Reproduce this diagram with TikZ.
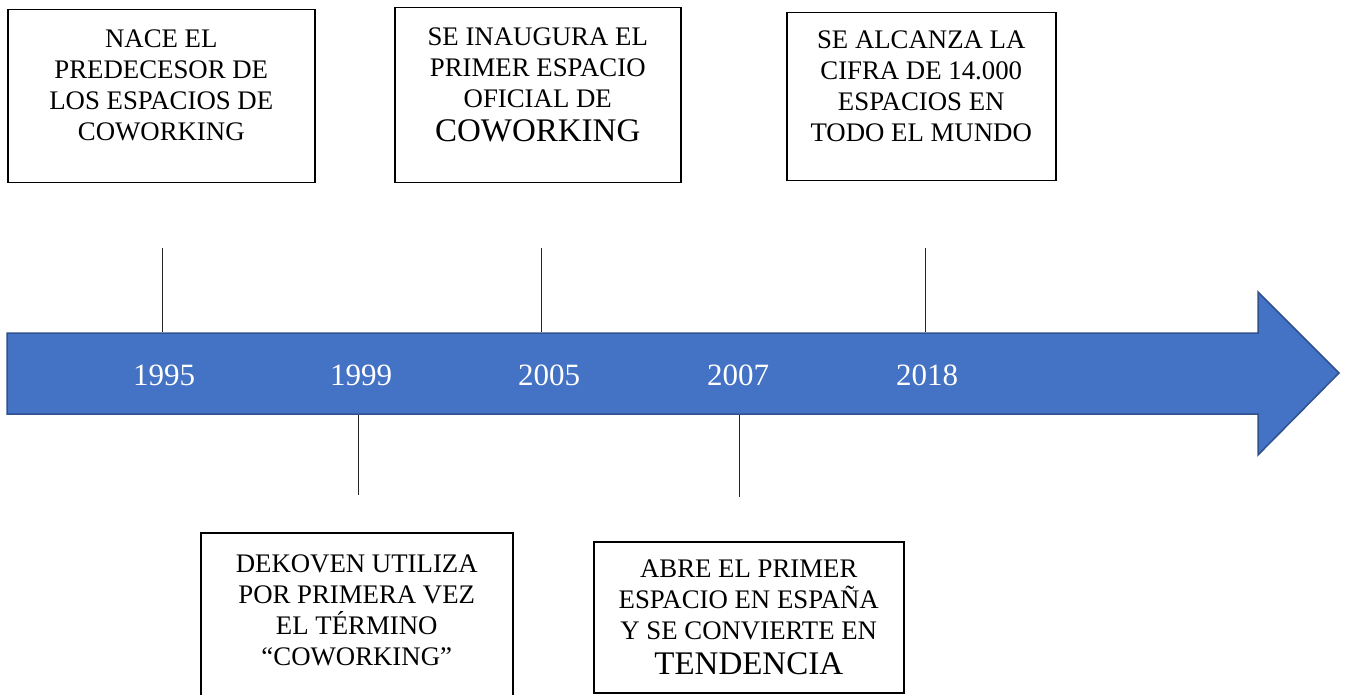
\documentclass[tikz,border=0pt]{standalone}
\usepackage{fontspec}
\setmainfont{Liberation Serif}
\definecolor{arrfill}{HTML}{4472C4}
\definecolor{arrline}{HTML}{2F528F}
\begin{document}
\begin{tikzpicture}[x=1pt,y=-1pt,
  evbox/.style={draw=black, line width=1.5pt, inner sep=0pt, anchor=north west},
  tick/.style={draw=black!85, line width=1pt},
  yearlbl/.style={text=white, anchor=base, inner sep=0pt, font=\fontsize{31}{34}\selectfont}]
\useasboundingbox (0,0) rectangle (1347,695);
\newcommand{\evtext}[4]{\parbox[t][#1pt][t]{#2pt}{\centering\fontsize{26.8}{31}\selectfont\vspace*{#3pt}#4}}
% arrow
\draw[fill=arrfill, draw=arrline, line width=1.5pt]
  (7,333) -- (1258,333) -- (1258,292) -- (1339,373) -- (1258,455) -- (1258,414) -- (7,414) -- cycle;
% boxes
\node[evbox] (b1) at (7,9) {\evtext{173}{307}{20}{NACE EL\\PREDECESOR DE\\LOS ESPACIOS DE\\COWORKING}};
\node[evbox] (b2) at (394,7) {\evtext{175}{286}{20}{SE INAUGURA EL\\PRIMER ESPACIO\\OFICIAL DE\\[3pt]{\fontsize{33}{36}\selectfont COWORKING}}};
\node[evbox] (b3) at (786,12) {\evtext{168}{269}{18}{SE ALCANZA LA\\CIFRA DE 14.000\\ESPACIOS EN\\TODO EL MUNDO}};
\node[evbox] (b4) at (200,532) {\evtext{165}{312}{22}{DEKOVEN UTILIZA\\POR PRIMERA VEZ\\EL TÉRMINO\\“COWORKING”}};
\node[evbox] (b5) at (593,541) {\evtext{151}{310}{18}{ABRE EL PRIMER\\ESPACIO EN ESPAÑA\\Y SE CONVIERTE EN\\[4pt]{\fontsize{33}{36}\selectfont TENDENCIA}}};
% ticks
\coordinate (t1a) at (162,248); \coordinate (t1b) at (162,332);
\coordinate (t2a) at (541,248); \coordinate (t2b) at (541,332);
\coordinate (t3a) at (925,248); \coordinate (t3b) at (925,332);
\coordinate (t4a) at (358,415); \coordinate (t4b) at (358,495);
\coordinate (t5a) at (739,415); \coordinate (t5b) at (739,497);
\draw[tick] (t1a) -- (t1b);
\draw[tick] (t2a) -- (t2b);
\draw[tick] (t3a) -- (t3b);
\draw[tick] (t4a) -- (t4b);
\draw[tick] (t5a) -- (t5b);
% years
\node[yearlbl] (y1) at (164,385) {1995};
\node[yearlbl] (y2) at (361,385) {1999};
\node[yearlbl] (y3) at (549,385) {2005};
\node[yearlbl] (y4) at (738,385) {2007};
\node[yearlbl] (y5) at (927,385) {2018};
\end{tikzpicture}
\end{document}
